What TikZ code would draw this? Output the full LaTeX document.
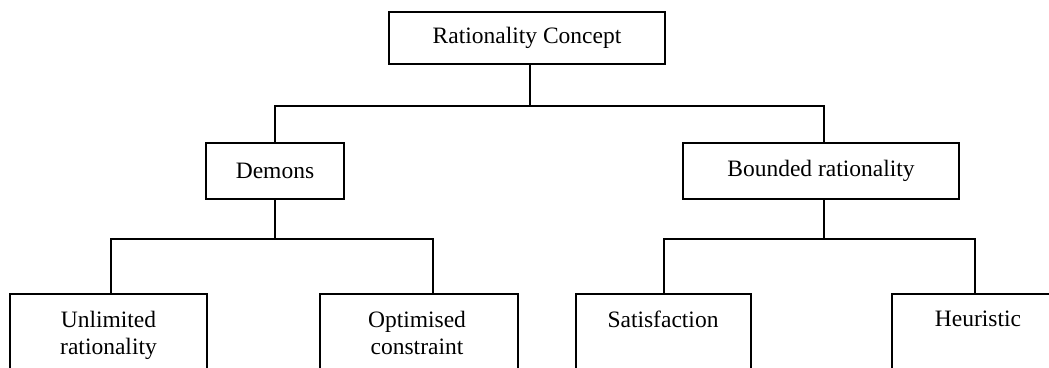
\documentclass[tikz,border=0pt]{standalone}
\usepackage{fontspec}
\setmainfont{Liberation Serif}
\begin{document}
\begin{tikzpicture}[x=1pt,y=-1pt,
  line width=1.5pt,
  box/.style={draw, inner sep=0pt, font=\fontsize{23.5}{27}\selectfont},
  leaf/.style={draw, inner sep=0pt, minimum height=140pt, anchor=north},
  leaftext/.style={inner sep=0pt, anchor=north, align=center, font=\fontsize{23.5}{27}\selectfont},
  conn/.style={draw, line width=1.5pt}]
\useasboundingbox (0,0) rectangle (1049,367);
\clip (0,0) rectangle (1049,367);
% upper boxes
\node[box, minimum width=276pt, minimum height=52pt] (top) at (527,38) {Rationality Concept};
\node[box, minimum width=138pt, minimum height=56pt] (demons) at (275,171) {Demons};
\node[box, minimum width=276pt, minimum height=56pt] (bounded) at (821,171) {Bounded rationality};
% leaf boxes (open at the bottom edge)
\node[leaf, minimum width=197pt] (unl) at (108.5,293) {};
\node[leaf, minimum width=198pt] (opt) at (419,293) {};
\node[leaf, minimum width=175pt] (sat) at (663.5,293) {};
\node[leaf, minimum width=180pt] (heu) at (982,293) {};
\node[leaftext] (unlt) at (108.5,310) {Unlimited\\rationality};
\node[leaftext] (optt) at (417,310) {Optimised\\constraint};
\node[leaftext] (satt) at (663,310) {Satisfaction};
\node[leaftext] (heut) at (978,310) {Heuristic};
% connectors
\coordinate (j1) at (530,106);
\coordinate (j2) at (275,239);
\coordinate (j3) at (824,239);
\draw[conn] ([xshift=3pt]top.south) -- (j1);
\draw[conn] (demons.north) |- (j1) -| ([xshift=3pt]bounded.north);
\draw[conn] (demons.south) -- (j2);
\draw[conn] ([xshift=2.5pt]unl.north) |- (j2) -| ([xshift=14pt]opt.north);
\draw[conn] ([xshift=3pt]bounded.south) -- (j3);
\draw[conn] ([xshift=0.5pt]sat.north) |- (j3) -| ([xshift=-7pt]heu.north);
\end{tikzpicture}
\end{document}
